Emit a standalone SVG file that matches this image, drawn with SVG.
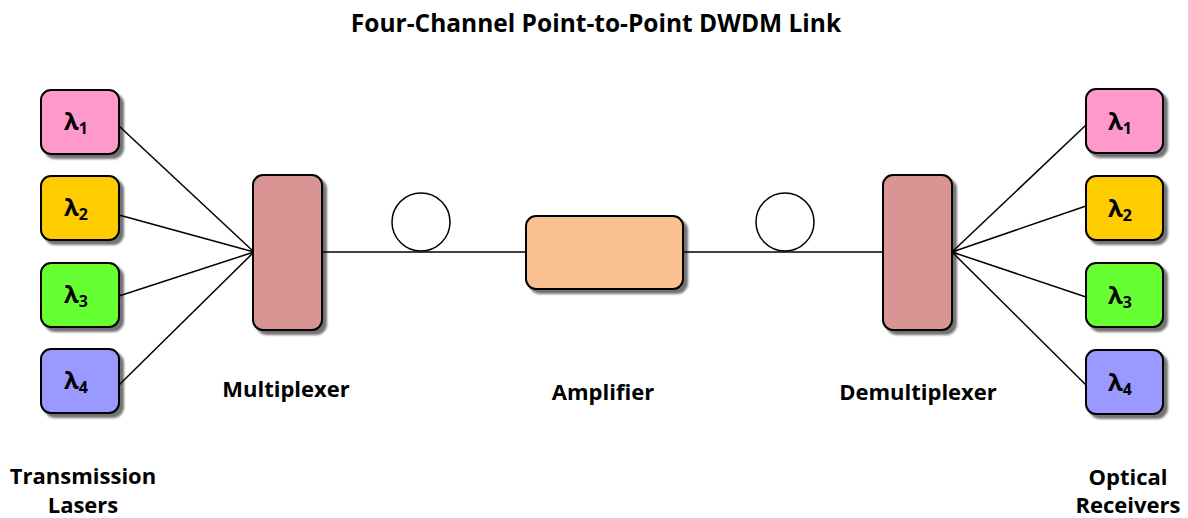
<svg xmlns="http://www.w3.org/2000/svg" width="1188" height="518" viewBox="0 0 1188 518">
<defs>
<filter id="sh" x="-20%" y="-20%" width="140%" height="140%">
<feGaussianBlur in="SourceAlpha" stdDeviation="1"/>
<feOffset dx="4" dy="4" result="o"/>
<feComponentTransfer><feFuncA type="linear" slope="0.55"/></feComponentTransfer>
<feMerge><feMergeNode/><feMergeNode in="SourceGraphic"/></feMerge>
</filter>
</defs>
<style>
.box{stroke:#000;stroke-width:2;filter:url(#sh)}
.lbl{font-family:"Open Sans","Liberation Sans",sans-serif;font-weight:bold;font-size:22px;fill:#000;text-anchor:middle}
.ttl{font-size:24.5px}
.lam{font-family:"Open Sans","Liberation Sans",sans-serif;font-weight:bold;font-size:24px;fill:#000;text-anchor:middle}
.sub{font-size:16px}
.ln{stroke:#000;stroke-width:1.5;fill:none}
</style>
<rect width="1188" height="518" fill="#fff"/>
<text class="lbl ttl" x="596" y="32">Four-Channel Point-to-Point DWDM Link</text>

<g id="connectors">
<line class="ln" x1="119" y1="126" x2="254" y2="252"/>
<line class="ln" x1="119" y1="215" x2="254" y2="252"/>
<line class="ln" x1="119" y1="296" x2="254" y2="252"/>
<line class="ln" x1="119" y1="385" x2="254" y2="252"/>
<line class="ln" x1="322" y1="252" x2="526" y2="252"/>
<line class="ln" x1="683" y1="252" x2="883" y2="252"/>
<line class="ln" x1="952" y1="252" x2="1086" y2="125"/>
<line class="ln" x1="952" y1="252" x2="1086" y2="206"/>
<line class="ln" x1="952" y1="252" x2="1086" y2="297"/>
<line class="ln" x1="952" y1="252" x2="1086" y2="385"/>
</g>

<g id="tx1"><rect class="box" x="41" y="90" width="78" height="64" rx="10" fill="#ff99cc"/><text class="lam" x="76" y="130">λ<tspan class="sub" dy="4">1</tspan></text></g>
<g id="tx2"><rect class="box" x="41" y="176" width="78" height="64" rx="10" fill="#ffcc00"/><text class="lam" x="76" y="216">λ<tspan class="sub" dy="4">2</tspan></text></g>
<g id="tx3"><rect class="box" x="41" y="263" width="78" height="64" rx="10" fill="#66ff33"/><text class="lam" x="76" y="303">λ<tspan class="sub" dy="4">3</tspan></text></g>
<g id="tx4"><rect class="box" x="41" y="349" width="78" height="64" rx="10" fill="#9999ff"/><text class="lam" x="76" y="389">λ<tspan class="sub" dy="4">4</tspan></text></g>

<g id="rx1"><rect class="box" x="1086" y="89" width="77" height="64" rx="10" fill="#ff99cc"/><text class="lam" x="1120" y="130">λ<tspan class="sub" dy="4">1</tspan></text></g>
<g id="rx2"><rect class="box" x="1086" y="176" width="77" height="64" rx="10" fill="#ffcc00"/><text class="lam" x="1120" y="217">λ<tspan class="sub" dy="4">2</tspan></text></g>
<g id="rx3"><rect class="box" x="1086" y="263" width="77" height="64" rx="10" fill="#66ff33"/><text class="lam" x="1120" y="304">λ<tspan class="sub" dy="4">3</tspan></text></g>
<g id="rx4"><rect class="box" x="1086" y="350" width="77" height="64" rx="10" fill="#9999ff"/><text class="lam" x="1120" y="391">λ<tspan class="sub" dy="4">4</tspan></text></g>

<g id="mux"><rect class="box" x="253" y="175" width="69" height="155" rx="10" fill="#d99594"/></g>
<g id="demux"><rect class="box" x="883" y="175" width="69" height="155" rx="10" fill="#d99594"/></g>
<g id="amp"><rect class="box" x="526" y="216" width="157" height="73" rx="10" fill="#f9c090"/></g>
<g id="fiber1"><circle cx="421" cy="222" r="29" fill="#fff" stroke="#000" stroke-width="1.5"/></g>
<g id="fiber2"><circle cx="785" cy="222" r="29" fill="#fff" stroke="#000" stroke-width="1.5"/></g>

<text class="lbl" x="286" y="397">Multiplexer</text>
<text class="lbl" x="603" y="400">Amplifier</text>
<text class="lbl" x="918" y="400">Demultiplexer</text>
<text class="lbl" x="83" y="484">Transmission</text>
<text class="lbl" x="83" y="513">Lasers</text>
<text class="lbl" x="1128" y="485">Optical</text>
<text class="lbl" x="1128" y="513">Receivers</text>
</svg>
